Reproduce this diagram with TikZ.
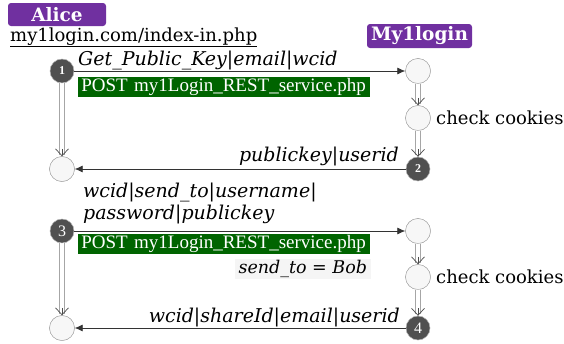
\documentclass[tikz,border=0pt]{standalone}
\usepackage{fontspec}
\setmainfont{DejaVu Serif}
\newfontfamily\timesf{Liberation Serif}
\usetikzlibrary{arrows.meta}
\definecolor{purp}{RGB}{112,48,160}
\definecolor{grn}{RGB}{0,100,0}
\definecolor{dkc}{RGB}{80,80,80}
\tikzset{
  lt/.style={circle, draw=gray!75, fill=gray!6, minimum size=25pt, inner sep=0pt},
  dk/.style={circle, draw=gray!40, fill=dkc, minimum size=24pt, inner sep=0pt, text=white},
  dknum/.style={font=\timesf\fontsize{12}{12}\selectfont\bfseries},
  dknumb/.style={font=\timesf\fontsize{16}{16}\selectfont},
  badge/.style={fill=purp, rounded corners=3pt, text=white, font=\fontsize{18.5}{19}\selectfont\bfseries, inner sep=0pt},
  msg/.style={draw=black!80, line width=0.7pt, -{Latex[length=8pt,width=7pt]}},
  vthin/.style={draw=gray!60!black, line width=0.7pt, -{Straight Barb[length=7pt,width=13pt]}},
  vouter/.style={draw=gray!70, line width=5.4pt, shorten >=1.5pt},
  vinner/.style={draw=white, line width=3.8pt, shorten >=1pt, shorten <=-1pt},
  lab/.style={font=\fontsize{19}{20}\selectfont\itshape, inner sep=0pt},
  post/.style={fill=grn, text=white, font=\timesf\fontsize{19}{20}\selectfont, inner sep=0pt, minimum height=20pt, text width=292pt, align=left},
  plain/.style={font=\fontsize{18}{20}\selectfont, inner sep=0pt},
}
\begin{document}
\begin{tikzpicture}[x=1pt,y=-1pt]
\useasboundingbox (0,0) rectangle (564,343);
% badges
\node[badge, minimum width=98pt, minimum height=23pt] (alice) at (57,14.5) {Alice};
\node[badge, minimum width=105pt, minimum height=24pt] (my) at (419.5,36) {My1login};
\node[plain, anchor=base west] (url) at (10,41) {\underline{my1login.com/index-in.php}};
% left column
\node[lt] (L2) at (62,169) {};
\node[lt] (L4) at (62,328) {};
\node[dk] (L1) at (62,71) {};
\node[dk] (L3) at (62,231) {};
% right column
\node[lt] (R1) at (418,71) {};
\node[lt] (R2) at (418,118) {};
\node[dk] (R3) at (418,169) {};
\node[lt] (R4) at (418,231) {};
\node[lt] (R5) at (418,277) {};
\node[dk] (R6) at (418,328) {};
% vertical double arrows
\foreach \a/\b in {L1/L2, L3/L4, R1/R2, R2/R3, R4/R5, R5/R6}{
  \draw[vouter] (\a) -- (\b);
  \draw[vinner] (\a) -- (\b);
  \draw[vthin] ([yshift=7.5pt]\b.north) -- (\b.north);
}
% redraw nodes on top
\node[lt] at (L2) {};
\node[lt] at (L4) {};
\node[dk, dknum] at (L1) {1};
\node[dk, dknumb] at (L3) {3};
\node[lt] at (R1) {};
\node[lt] at (R2) {};
\node[dk, dknum] at (R3) {2};
\node[lt] at (R4) {};
\node[lt] at (R5) {};
\node[dk, dknumb] at (R6) {4};
% messages
\draw[msg] (L1) -- (R1);
\draw[msg] (R3) -- (L2);
\draw[msg] (L3) -- (R4);
\draw[msg] (R6) -- (L4);
% labels
\node[lab, anchor=base west] (m1) at (78,65) {Get\_Public\_Key|email|wcid};
\node[post, anchor=north west] (p1) at (78,77) {\,POST my1Login\_REST\_service.php};
\node[plain, anchor=west] (cc1) at (436,118) {check cookies};
\node[lab, anchor=base east] (m2) at (399,161) {publickey|userid};
\node[lab, anchor=base west] (m3a) at (83,197) {wcid|send\_to|username|};
\node[lab, anchor=base west] (m3b) at (83,219) {password|publickey};
\node[post, anchor=north west] (p2) at (78,234) {\,POST my1Login\_REST\_service.php};
\node[fill=gray!8, font=\fontsize{17.5}{18}\selectfont\itshape, inner sep=0pt, minimum height=20pt, minimum width=136pt, anchor=north east] (bob) at (371,259) {send\_to = Bob};
\node[plain, anchor=west] (cc2) at (436,277) {check cookies};
\node[lab, anchor=base east] (m4) at (400,322) {wcid|shareId|email|userid};
\end{tikzpicture}
\end{document}
